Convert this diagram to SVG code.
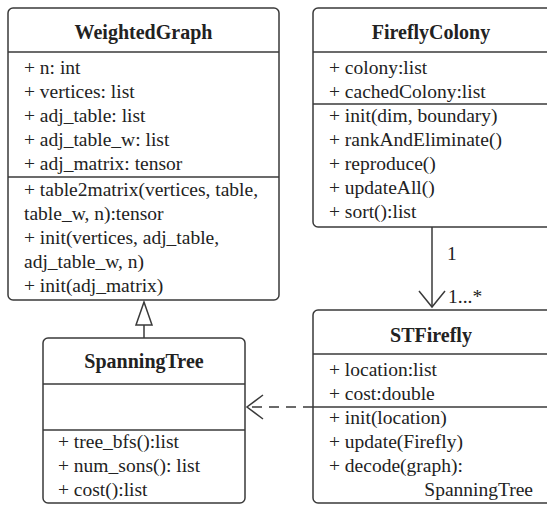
<svg xmlns="http://www.w3.org/2000/svg" width="547" height="508" viewBox="0 0 547 508">
<style>
.box{fill:#fff;stroke:#3a3a3a;stroke-width:1.5}
.div{stroke:#3a3a3a;stroke-width:1.5;fill:none}
.t{font-family:'Liberation Serif','DejaVu Serif',serif;font-size:19.5px;fill:#222}
.h{font-family:'Liberation Serif','DejaVu Serif',serif;font-size:20px;font-weight:bold;fill:#222;text-anchor:middle}
.c{stroke:#3a3a3a;stroke-width:1.5;fill:none}
</style>
<rect width="547" height="508" fill="#fff"/>
<g id="connectors">
<line class="c" x1="432" y1="227" x2="432" y2="307"/>
<polyline class="c" points="419,291 432,307 445,291"/>
<text class="t" x="447" y="260">1</text>
<text class="t" x="448" y="303">1...*</text>
<line class="c" x1="144" y1="338" x2="144" y2="325"/>
<polygon class="c" points="144,302 136,325 152,325" fill="#fff"/>
<line class="c" x1="313" y1="407" x2="248" y2="407" stroke-dasharray="10,7"/>
<polyline class="c" points="263,395 247,407 263,419"/>
</g>
<g id="WeightedGraph">
<rect class="box" x="8" y="8" width="271" height="292" rx="5"/>
<line class="div" x1="8" y1="52" x2="279" y2="52"/>
<line class="div" x1="8" y1="177" x2="279" y2="177"/>
<text class="h" x="143.5" y="39">WeightedGraph</text>
<text class="t" x="24" y="74">+ n: int</text>
<text class="t" x="24" y="98">+ vertices: list</text>
<text class="t" x="24" y="122">+ adj_table: list</text>
<text class="t" x="24" y="146">+ adj_table_w: list</text>
<text class="t" x="24" y="170">+ adj_matrix: tensor</text>
<text class="t" x="24" y="196">+ table2matrix(vertices, table,</text>
<text class="t" x="24" y="220">table_w, n):tensor</text>
<text class="t" x="24" y="244">+ init(vertices, adj_table,</text>
<text class="t" x="24" y="268">adj_table_w, n)</text>
<text class="t" x="24" y="292">+ init(adj_matrix)</text>
</g>
<g id="FireflyColony">
<rect class="box" x="313" y="8" width="240" height="219" rx="5"/>
<line class="div" x1="313" y1="52" x2="553" y2="52"/>
<line class="div" x1="313" y1="104" x2="553" y2="104"/>
<text class="h" x="431" y="39">FireflyColony</text>
<text class="t" x="329" y="74">+ colony:list</text>
<text class="t" x="329" y="98">+ cachedColony:list</text>
<text class="t" x="329" y="122">+ init(dim, boundary)</text>
<text class="t" x="329" y="146">+ rankAndEliminate()</text>
<text class="t" x="329" y="170">+ reproduce()</text>
<text class="t" x="329" y="194">+ updateAll()</text>
<text class="t" x="329" y="218">+ sort():list</text>
</g>
<g id="STFirefly">
<rect class="box" x="313" y="310" width="240" height="193" rx="5"/>
<line class="div" x1="313" y1="354" x2="553" y2="354"/>
<line class="div" x1="313" y1="407" x2="553" y2="407"/>
<text class="h" x="431" y="342">STFirefly</text>
<text class="t" x="329" y="376">+ location:list</text>
<text class="t" x="329" y="400">+ cost:double</text>
<text class="t" x="329" y="424">+ init(location)</text>
<text class="t" x="329" y="448">+ update(Firefly)</text>
<text class="t" x="329" y="472">+ decode(graph):</text>
<text class="t" x="533" y="496" text-anchor="end">SpanningTree</text>
</g>
<g id="SpanningTree">
<rect class="box" x="43" y="338" width="202" height="165" rx="5"/>
<line class="div" x1="43" y1="384" x2="245" y2="384"/>
<line class="div" x1="43" y1="430" x2="245" y2="430"/>
<text class="h" x="144" y="368">SpanningTree</text>
<text class="t" x="58" y="448">+ tree_bfs():list</text>
<text class="t" x="58" y="472">+ num_sons(): list</text>
<text class="t" x="58" y="496">+ cost():list</text>
</g>
</svg>
